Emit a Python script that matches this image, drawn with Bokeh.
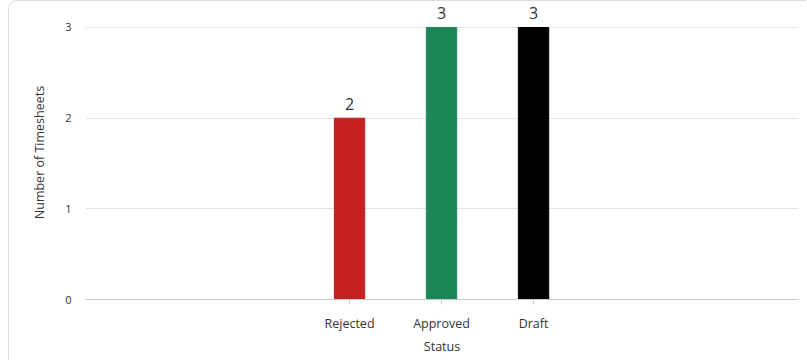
from bokeh.plotting import figure
from bokeh.models import ColumnDataSource, FixedTicker, Title
from bokeh.core.properties import value
from bokeh.embed import file_html
from bokeh.resources import INLINE

# Timesheet counts per status
statuses = ["Rejected", "Approved", "Draft"]
counts = [2, 3, 3]
bar_colors = ["#c4201f", "#1b8757", "#000000"]
y_ticks = [0, 1, 2, 3]

FONT = "Open Sans"
TEXT = "#333333"

positions = list(range(len(statuses)))
source = ColumnDataSource(dict(
    x=positions,
    count=counts,
    label=[str(c) for c in counts],
    color=bar_colors,
))

p = figure(
    width=798, height=360,
    x_range=(-2.87, 4.88), y_range=(0, 3.2426),
    output_backend="svg", toolbar_location=None,
    min_border_left=76, min_border_right=9,
    min_border_top=4, min_border_bottom=62,
)
p.styles = {
    "margin-left": "8px",
    "border-top": "1px solid #dedede",
    "border-left": "1px solid #dedede",
    "border-top-left-radius": "10px",
    "overflow": "hidden",
}
p.outline_line_color = None
p.background_fill_color = "white"
p.border_fill_color = "white"

p.vbar(x="x", top="count", width=0.33, color="color", source=source)

# value labels above each bar
p.text(x="x", y="count", text="label", source=source,
       text_align="center", text_baseline="alphabetic", y_offset=-14,
       text_font=value(FONT), text_font_size="16px", text_color=TEXT)

# x axis: category names at bar centres
p.xaxis.ticker = FixedTicker(ticks=positions)
p.xaxis.major_label_overrides = {i: s for i, s in enumerate(statuses)}
p.xaxis.axis_label = "Status"
p.xaxis.axis_line_color = "#cccccc"
p.xaxis.major_tick_line_color = "#cccccc"
p.xaxis.major_tick_out = 5
p.xaxis.major_tick_in = 0
p.xaxis.minor_tick_line_color = None
p.xaxis.major_label_standoff = 10
p.xaxis.axis_label_standoff = 3
p.xaxis.major_label_text_font_size = "12.5px"
p.xaxis.axis_label_text_font_size = "12.5px"

# y axis
p.yaxis.ticker = FixedTicker(ticks=y_ticks)
p.yaxis.axis_line_color = None
p.yaxis.major_tick_line_color = None
p.yaxis.minor_tick_line_color = None
p.yaxis.major_label_standoff = 8
p.yaxis.major_label_text_font_size = "11px"

for ax in (p.xaxis, p.yaxis):
    ax.major_label_text_font = FONT
    ax.major_label_text_color = TEXT
    ax.axis_label_text_font = FONT
    ax.axis_label_text_font_style = "normal"
    ax.axis_label_text_color = TEXT

# y axis title as a side title, shifted to centre on the 0..3 span
p.add_layout(Title(
    text="Number of Timesheets", align="center", offset=11, standoff=29,
    text_font=FONT, text_font_size="12.5px", text_font_style="normal",
    text_color=TEXT,
), "left")

p.xgrid.grid_line_color = None
p.ygrid.ticker = FixedTicker(ticks=y_ticks)
p.ygrid.grid_line_color = "#e3e3e3"

open("out.html", "w").write(file_html(p, INLINE))
